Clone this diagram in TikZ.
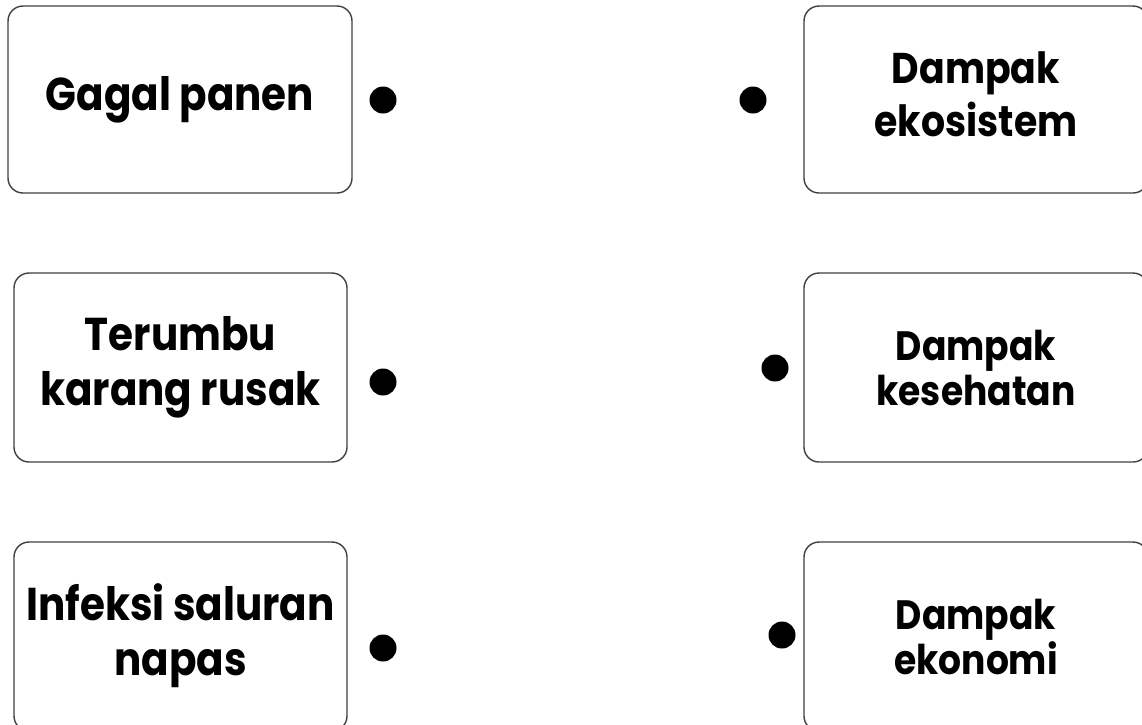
\documentclass[tikz,border=0pt]{standalone}
\usepackage{fontspec}
\setmainfont{Poppins}[UprightFont=* Bold,FakeStretch=0.88]
\begin{document}
\begin{tikzpicture}[x=1pt,y=-1pt,
  card/.style={draw=black!75,line width=1.4pt,rounded corners=15pt,fill=white,
    inner sep=0pt,align=center,text=black},
  dotmark/.style={circle,fill=black,draw=none,minimum size=27pt,inner sep=0pt},
  big/.style={font=\fontsize{46}{55}\selectfont},
  upr/.style={font=\fontsize{43}{53}\selectfont},
  mid/.style={font=\fontsize{41}{45}\selectfont}]
\useasboundingbox (0,0) rectangle (1142,724);
\clip (0,0) rectangle (1142,724);
\fill[white] (0,0) rectangle (1142,724);
% left cards
\node[card,big,minimum width=344pt,minimum height=187pt] (l1) at (180,99.5) {Gagal panen};
\node[card,big,minimum width=333pt,minimum height=189pt] (l2) at (180.5,367.5) {Terumbu\\karang rusak\rule[-14pt]{0pt}{1pt}};
\node[card,big,minimum width=333pt,minimum height=189pt] (l3) at (180.5,636.5) {Infeksi saluran\\napas\rule[-14pt]{0pt}{1pt}};
% right cards
\node[card,upr,minimum width=344pt,minimum height=187pt] (r1) at (976,99.5) {Dampak\\ekosistem\rule[-10pt]{0pt}{1pt}};
\node[card,mid,minimum width=344pt,minimum height=189pt] (r2) at (976,367.5) {Dampak\\kesehatan};
\node[card,mid,minimum width=344pt,minimum height=189pt] (r3) at (976,636.5) {Dampak\\ekonomi};
% dots
\node[dotmark] (d1) at (383,100) {};
\node[dotmark] (d2) at (383,382) {};
\node[dotmark] (d3) at (383,648) {};
\node[dotmark] (e1) at (753,100) {};
\node[dotmark] (e2) at (775,368) {};
\node[dotmark] (e3) at (782,635) {};
\end{tikzpicture}
\end{document}
